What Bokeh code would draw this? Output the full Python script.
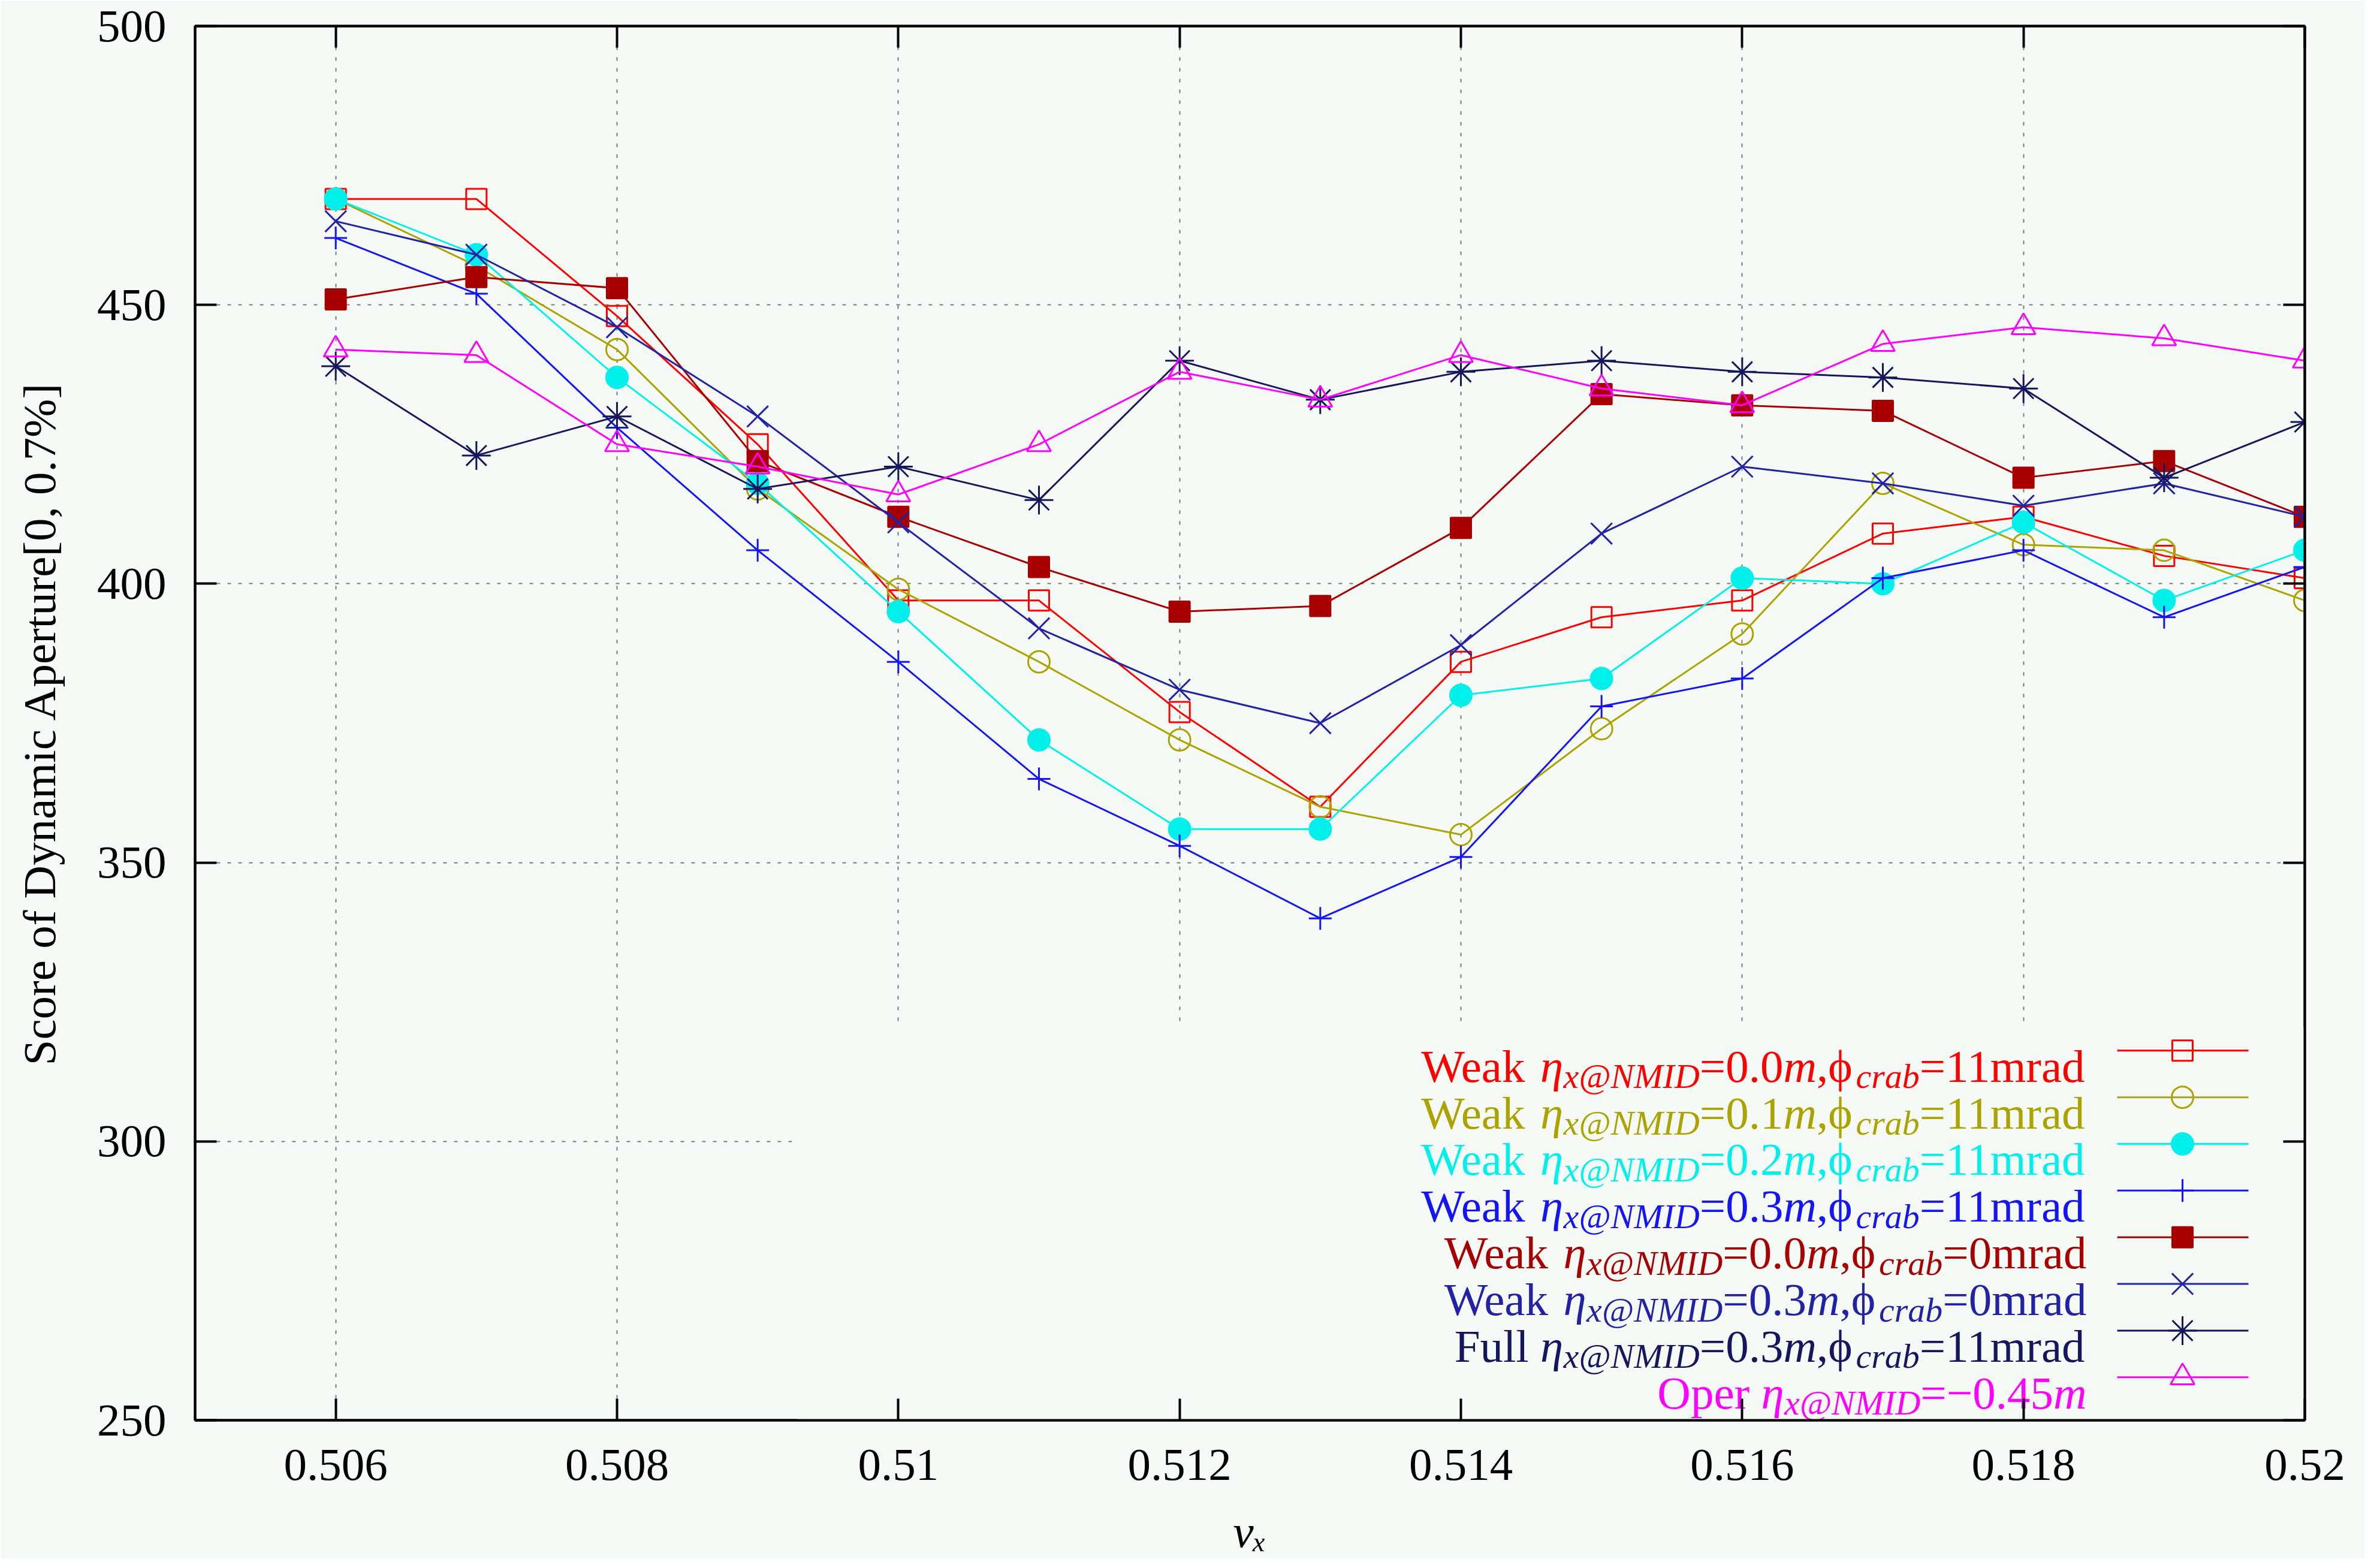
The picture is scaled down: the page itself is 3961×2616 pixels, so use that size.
import numpy as np
from bokeh.plotting import figure
from bokeh.models import (Range1d, FixedTicker, LinearAxis, CustomJSTickFormatter,
                          BoxAnnotation, ColumnDataSource)
from bokeh.core.properties import value
from bokeh.embed import file_html
from bokeh.resources import INLINE

# ------------------------------------------------------------------ data
nu_x = [0.506, 0.507, 0.508, 0.509, 0.510, 0.511, 0.512, 0.513,
        0.514, 0.515, 0.516, 0.517, 0.518, 0.519, 0.520]
weak_00m_11mrad = [469, 469, 448, 425, 397, 397, 377, 360, 386, 394, 397, 409, 412, 405, 401]
weak_01m_11mrad = [469, 457, 442, 417, 399, 386, 372, 360, 355, 374, 391, 418, 407, 406, 397]
weak_02m_11mrad = [469, 459, 437, 418, 395, 372, 356, 356, 380, 383, 401, 400, 411, 397, 406]
weak_03m_11mrad = [462, 452, 428, 406, 386, 365, 353, 340, 351, 378, 383, 401, 406, 394, 403]
weak_00m_0mrad = [451, 455, 453, 422, 412, 403, 395, 396, 410, 434, 432, 431, 419, 422, 412]
weak_03m_0mrad = [465, 459, 446, 430, 411, 392, 381, 375, 389, 409, 421, 418, 414, 418, 412]
full_03m_11mrad = [439, 423, 430, 417, 421, 415, 440, 433, 438, 440, 438, 437, 435, 419, 429]
oper_m045m = [442, 441, 425, 421, 416, 425, 438, 433, 441, 435, 432, 443, 446, 444, 440]

x_ticks = [0.506, 0.508, 0.510, 0.512, 0.514, 0.516, 0.518, 0.520]
x_tick_labels = ["0.506", "0.508", "0.51", "0.512", "0.514", "0.516", "0.518", "0.52"]
y_ticks = [250, 300, 350, 400, 450, 500]
y_tick_labels = ["250", "300", "350", "400", "450", "500"]

legend_kind = ["Weak", "Weak", "Weak", "Weak", "Weak", "Weak", "Full", "Oper"]
legend_eta = ["0.0", "0.1", "0.2", "0.3", "0.0", "0.3", "0.3", "\u22120.45"]
legend_phi = ["11", "11", "11", "11", "0", "0", "11", None]

x_label = "\u03bd\u2093"
y_label = "Score of Dynamic Aperture[0, 0.7%]"

# ------------------------------------------------------------------ styles
series = [
    (weak_00m_11mrad, "#FF0000", "square", None, 34),
    (weak_01m_11mrad, "#ABA400", "circle", None, 36),
    (weak_02m_11mrad, "#00F0EC", "circle", "#00F0EC", 36),
    (weak_03m_11mrad, "#1414F5", "cross", None, 38),
    (weak_00m_0mrad, "#A80000", "square", "#A80000", 34),
    (weak_03m_0mrad, "#2222A6", "x", None, 50),
    (full_03m_11mrad, "#16165E", "asterisk", None, 48),
    (oper_m045m, "#FF00FF", "triangle", None, 40),
]

BG = "#F6FAF6"
FONT = "Liberation Serif"
FS = 77          # main font px
FS_SUB = 58      # subscript font px
SUB_DROP = 17    # subscript baseline drop px

X_MIN, X_MAX = 0.505, 0.520
Y_MIN, Y_MAX = 250, 500

# page geometry of the frame (px)
FRAME_L, FRAME_R, FRAME_T, FRAME_B = 333, 3853, 51, 2378
W, H = 3945, 2600


def px2x(px):
    return X_MIN + (px - FRAME_L) / (FRAME_R - FRAME_L) * (X_MAX - X_MIN)


def px2y(py):
    return Y_MIN + (FRAME_B - py) / (FRAME_B - FRAME_T) * (Y_MAX - Y_MIN)


p = figure(width=W, height=H, output_backend="svg", toolbar_location=None,
           x_range=Range1d(X_MIN, X_MAX), y_range=Range1d(Y_MIN, Y_MAX),
           min_border_left=FRAME_L - 8, min_border_right=W - (FRAME_R - 8),
           min_border_top=FRAME_T - 8, min_border_bottom=H - (FRAME_B - 8))
p.background_fill_color = BG
p.border_fill_color = BG
p.outline_line_color = "black"
p.outline_line_width = 4

# axes
def style_axis(ax, labels=True):
    ax.major_tick_in = 36
    ax.major_tick_out = 0
    ax.minor_tick_line_color = None
    ax.major_tick_line_width = 4
    ax.major_tick_line_color = "black"
    ax.axis_line_width = 4
    ax.axis_line_color = "black"
    ax.major_label_text_font = FONT
    ax.major_label_text_font_size = f"{FS}px"
    ax.major_label_text_color = "black"
    if not labels:
        ax.formatter = CustomJSTickFormatter(code="return ''")
        ax.major_label_standoff = 0


xax = p.xaxis[0]
xax.ticker = FixedTicker(ticks=x_ticks)
xax.major_label_overrides = {t: l for t, l in zip(x_ticks, x_tick_labels)}
style_axis(xax)
xax.major_label_standoff = 49
xax.axis_label = x_label
xax.axis_label_text_font = FONT
xax.axis_label_text_font_size = f"{FS}px"
xax.axis_label_text_font_style = "italic"
xax.axis_label_text_color = "black"
xax.axis_label_standoff = 40

yax = p.yaxis[0]
yax.ticker = FixedTicker(ticks=y_ticks)
yax.major_label_overrides = {t: l for t, l in zip(y_ticks, y_tick_labels)}
style_axis(yax)
yax.major_label_standoff = 48
yax.axis_label = y_label
yax.axis_label_text_font = FONT
yax.axis_label_text_font_size = f"{FS}px"
yax.axis_label_text_font_style = "normal"
yax.axis_label_text_color = "black"
yax.axis_label_standoff = 50

top_ax = LinearAxis(ticker=FixedTicker(ticks=x_ticks))
style_axis(top_ax, labels=False)
p.add_layout(top_ax, "above")
right_ax = LinearAxis(ticker=FixedTicker(ticks=y_ticks))
style_axis(right_ax, labels=False)
p.add_layout(right_ax, "right")

# grid
p.xgrid.ticker = FixedTicker(ticks=x_ticks)
p.ygrid.ticker = FixedTicker(ticks=y_ticks)
for g in (p.xgrid[0], p.ygrid[0]):
    g.grid_line_color = "#7A7A7A"
    g.grid_line_width = 2
    g.grid_line_dash = "6 12"

# opaque key area (covers grid)
key_box = BoxAnnotation(left=px2x(1339), right=X_MAX, bottom=Y_MIN, top=px2y(1722),
                        fill_color=BG, fill_alpha=1.0, line_color=None, level="underlay")
p.add_layout(key_box)

# data series
for vals, col, mk, fill, sz in series:
    p.line(nu_x, vals, line_color=col, line_width=3)
    p.scatter(nu_x, vals, marker=mk, size=sz, line_color=col, line_width=3,
              fill_color=fill, fill_alpha=1.0 if fill else 0.0)

# ------------------------------------------------------------------ key
PHI = "\u03d5"
REG = {'W': 944, 'e': 444, 'a': 444, 'k': 500, ' ': 250, 'F': 556, 'u': 500,
       'l': 278, 'O': 722, 'p': 500, 'r': 333, '=': 564, '.': 250, ',': 250,
       'm': 778, 'd': 500, '\u2212': 564, PHI: 600}
ITA = {'\u03b7': 500, 'x': 444, '@': 920, 'N': 667, 'M': 833, 'I': 333,
       'D': 722, 'c': 444, 'r': 389, 'a': 500, 'b': 500, 'm': 722}


def text_width(s, style):
    if style == "r":
        return sum(REG.get(c, 500) for c in s) / 1000 * FS
    if style == "i":
        return sum(ITA.get(c, 500) for c in s) / 1000 * FS
    return sum(ITA.get(c, 500) for c in s) / 1000 * FS_SUB


ROW0, ROW_DY = 1761, 77.9
TEXT_R = 3489
LINE_X0, LINE_X1, MARK_X = 3540, 3759, 3649
BASE_DROP = 26

groups = {k: dict(x=[], y=[], xo=[], yo=[], text=[], color=[]) for k in ("r", "i", "s")}
for i, (kind, eta, phi) in enumerate(zip(legend_kind, legend_eta, legend_phi)):
    col = series[i][1]
    pieces = [(kind + " ", "r"), ("\u03b7", "i"), ("x@NMID", "s"), ("=" + eta, "r"), ("m", "i")]
    if phi is not None:
        pieces += [(",", "r"), (PHI, "r"), ("crab", "s"), ("=" + phi + "mrad", "r")]
    total = sum(text_width(s, st) for s, st in pieces)
    row_y = px2y(ROW0 + i * ROW_DY)
    cum = 0.0
    for s, st in pieces:
        g = groups[st]
        g["x"].append(px2x(TEXT_R))
        g["y"].append(row_y)
        g["xo"].append(cum - total)
        g["yo"].append(BASE_DROP + (SUB_DROP if st == "s" else 0))
        g["text"].append(s)
        g["color"].append(col)
        cum += text_width(s, st)
    p.line([px2x(LINE_X0), px2x(LINE_X1)], [row_y, row_y], line_color=col, line_width=3)
    vals, col, mk, fill, sz = series[i]
    p.scatter([px2x(MARK_X)], [row_y], marker=mk, size=sz, line_color=col, line_width=3,
              fill_color=fill, fill_alpha=1.0 if fill else 0.0)

for st, g in groups.items():
    src = ColumnDataSource(g)
    p.text(x="x", y="y", x_offset="xo", y_offset="yo", text="text", source=src,
           text_color="color", text_font=value(FONT),
           text_font_size=value(f"{FS_SUB if st == 's' else FS}px"),
           text_font_style=value("normal" if st == "r" else "italic"),
           text_align="left", text_baseline="alphabetic")

open("out.html", "w").write(file_html(p, INLINE))
